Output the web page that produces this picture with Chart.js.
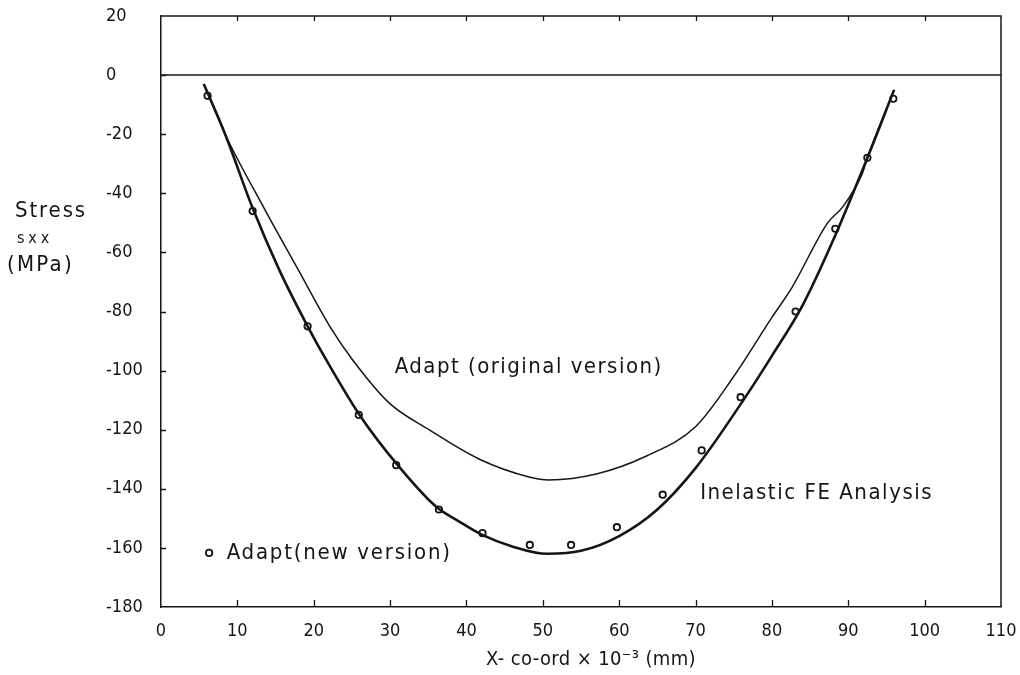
<!DOCTYPE html>
<html>
<head>
<meta charset="utf-8">
<script src="https://cdn.jsdelivr.net/npm/chart.js@4.4.1/dist/chart.umd.min.js"></script>
<style>
  html, body { margin: 0; background: #fff; }
  canvas { display: block; }
</style>
</head>
<body>
<canvas id="stress-chart" width="1020" height="675"></canvas>
<script>
// Inelastic FE analysis curve (thick line)
var fe_x = [5.6, 6.1, 8.4, 12, 15.5, 19.2, 22, 26, 31, 36, 39, 42, 46, 50.6, 55, 60, 65, 70, 76, 80, 84, 88, 92.5, 96];
var fe_y = [-3, -6, -20, -45, -66, -85, -98, -115, -132, -146, -151, -155.5, -159.5, -162, -161, -156, -147, -133, -111, -95, -78, -56, -28, -5];

// Adapt (original version) curve (thin line)
var orig_x = [5.6, 6.1, 8.4, 13.6, 18, 22.1, 25.1, 29.9, 35.1, 41.7, 48.2, 50.8, 57, 63.5, 70, 75, 80, 82.6, 87.3, 89.3, 91.8, 92.5, 96];
var orig_y = [-3, -6, -20, -45.5, -66, -85, -96.4, -111, -120, -130, -136, -137, -135, -129, -119, -102, -82, -72, -50, -44.5, -33.5, -28, -5];

// Adapt (new version) points
var new_x = [6.1, 12.0, 19.2, 25.9, 30.8, 36.4, 42.1, 48.3, 53.7, 59.7, 65.7, 70.8, 75.9, 83.1, 88.3, 92.5, 95.9];
var new_y = [-7, -46, -85, -115, -132, -147, -155, -159, -159, -153, -142, -127, -109, -80, -52, -28, -8];

// Axis ranges
var x_range = [0, 110, 10];
var y_range = [-180, 20, 20];

var FONT = '"Liberation Sans Narrow", "DejaVu Sans Condensed", "Arial Narrow", sans-serif';
var INK = '#151515';

function toPoints(xs, ys) {
    return xs.map(function (x, i) { return { x: x, y: ys[i] }; });
}

// draw text stretched/spaced to a given width (reference uses wide-spaced lettering)
function fitText(ctx, text, x, y, width) {
    if ('letterSpacing' in ctx) ctx.letterSpacing = '0px';
    var w = ctx.measureText(text).width;
    var sp = (width - w) / text.length;
    if (sp >= 0 && 'letterSpacing' in ctx) {
        ctx.letterSpacing = sp + 'px';
        ctx.fillText(text, x, y);
        ctx.letterSpacing = '0px';
    } else {
        ctx.save();
        ctx.translate(x, y);
        ctx.scale(width / w, 1);
        ctx.fillText(text, 0, 0);
        ctx.restore();
    }
}

// frame, zero line, inward ticks and text labels
var decorations = {
    id: 'decorations',
    afterDraw: function (chart) {
        var ctx = chart.ctx;
        var a = chart.chartArea;
        var xs = chart.scales.x, ys = chart.scales.y;
        ctx.save();
        ctx.strokeStyle = INK;
        ctx.lineWidth = 1.5;

        // top and right border
        ctx.beginPath();
        ctx.moveTo(a.left, a.top);
        ctx.lineTo(a.right, a.top);
        ctx.lineTo(a.right, a.bottom);
        ctx.stroke();

        // zero line
        var y0 = ys.getPixelForValue(0);
        ctx.beginPath();
        ctx.moveTo(a.left, y0);
        ctx.lineTo(a.right, y0);
        ctx.stroke();

        // inward ticks
        ctx.lineWidth = 1.3;
        ctx.beginPath();
        for (var v = x_range[0] + x_range[2]; v < x_range[1]; v += x_range[2]) {
            var px = Math.round(xs.getPixelForValue(v)) + 0.5;
            ctx.moveTo(px, a.bottom);
            ctx.lineTo(px, a.bottom - 7);
            ctx.moveTo(px, a.top);
            ctx.lineTo(px, a.top + 5);
        }
        for (var t = y_range[0] + y_range[2]; t < y_range[1]; t += y_range[2]) {
            var py = Math.round(ys.getPixelForValue(t)) + 0.5;
            ctx.moveTo(a.left, py);
            ctx.lineTo(a.left + 5, py);
        }
        ctx.stroke();

        // legend marker for the new version
        ctx.beginPath();
        ctx.arc(xs.getPixelForValue(6.3), ys.getPixelForValue(-161.7), 3.2, 0, Math.PI * 2);
        ctx.fillStyle = '#fff';
        ctx.fill();
        ctx.lineWidth = 1.8;
        ctx.stroke();

        // labels
        ctx.fillStyle = INK;
        ctx.textBaseline = 'middle';
        ctx.textAlign = 'left';
        ctx.font = '22px ' + FONT;
        fitText(ctx, 'Adapt (original version)', xs.getPixelForValue(30.6), ys.getPixelForValue(-98.8), 268);
        fitText(ctx, 'Inelastic FE Analysis', xs.getPixelForValue(70.6), ys.getPixelForValue(-141.4), 233);
        fitText(ctx, 'Adapt(new version)', xs.getPixelForValue(8.6), ys.getPixelForValue(-161.7), 225);

        // y axis title
        fitText(ctx, 'Stress', 15, 211, 72);
        ctx.font = '16px ' + FONT;
        fitText(ctx, 'sxx', 17, 239, 36);
        ctx.font = '22px ' + FONT;
        fitText(ctx, '(MPa)', 7, 265, 67);

        // x axis title
        ctx.font = '20px ' + FONT;
        fitText(ctx, 'X- co-ord × 10⁻³ (mm)', 486, 660, 210);

        ctx.restore();
    }
};

Chart.defaults.font.family = FONT;
Chart.defaults.color = INK;

var ctx = document.getElementById('stress-chart').getContext('2d');
var chart = new Chart(ctx, {
    type: 'scatter',
    data: {
        datasets: [
            {
                label: 'Inelastic FE Analysis',
                data: toPoints(fe_x, fe_y),
                showLine: true,
                borderColor: INK,
                borderWidth: 2.6,
                pointRadius: 0,
                cubicInterpolationMode: 'monotone'
            },
            {
                label: 'Adapt (original version)',
                data: toPoints(orig_x, orig_y),
                showLine: true,
                borderColor: INK,
                borderWidth: 1.5,
                pointRadius: 0,
                cubicInterpolationMode: 'monotone'
            },
            {
                label: 'Adapt (new version)',
                data: toPoints(new_x, new_y),
                showLine: false,
                pointRadius: 3.2,
                pointBorderWidth: 1.8,
                pointBorderColor: INK,
                pointBackgroundColor: '#fff'
            }
        ]
    },
    options: {
        responsive: false,
        animation: false,
        layout: { padding: { left: 106, top: 16, right: 19, bottom: 0 } },
        plugins: {
            legend: { display: false },
            tooltip: { enabled: false }
        },
        scales: {
            x: {
                type: 'linear',
                min: x_range[0],
                max: x_range[1],
                ticks: { stepSize: x_range[2], padding: 14, font: { size: 18 }, color: INK, maxRotation: 0 },
                grid: { display: false, drawTicks: false },
                border: { display: true, color: INK, width: 1.5 },
                afterFit: function (s) {
                    s.height = 68;
                    s.paddingLeft = 0;
                    s.paddingRight = 0;
                }
            },
            y: {
                type: 'linear',
                min: y_range[0],
                max: y_range[1],
                ticks: { stepSize: y_range[2], crossAlign: 'far', font: { size: 18 }, color: INK },
                grid: { display: false, drawTicks: false },
                border: { display: true, color: INK, width: 1.5 },
                afterFit: function (s) { s.width = 55; }
            }
        }
    },
    plugins: [decorations]
});
</script>
</body>
</html>
